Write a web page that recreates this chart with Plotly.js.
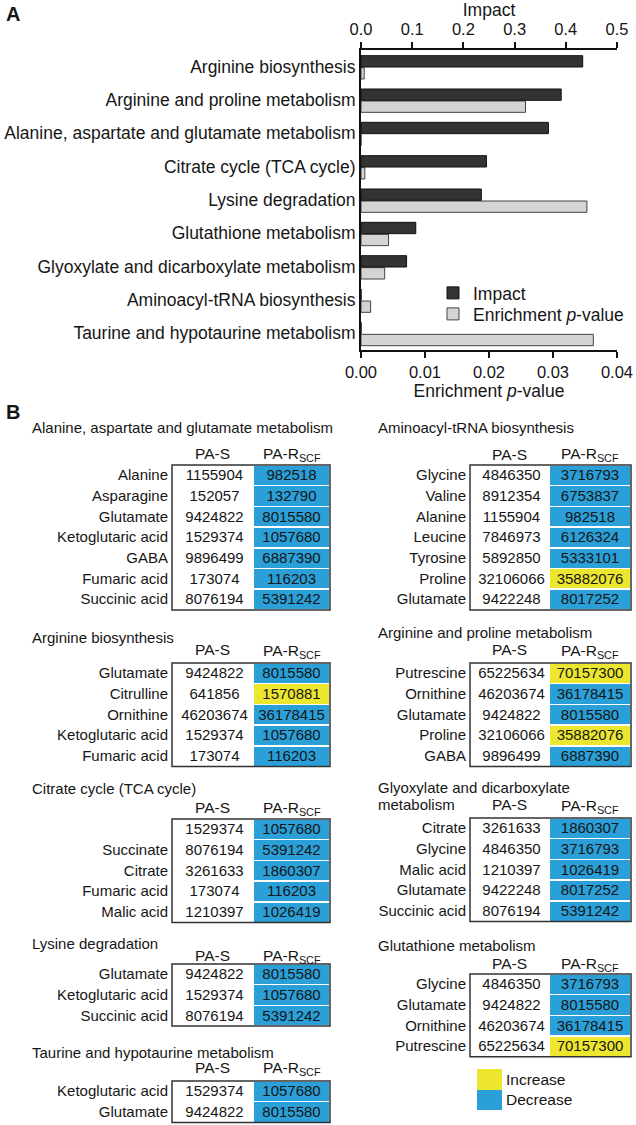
<!DOCTYPE html>
<html>
<head>
<meta charset="utf-8">
<script src="https://cdn.plot.ly/plotly-3.0.1.min.js"></script>
<style>
  html, body { margin: 0; padding: 0; background: #fff; }
  #chart { width: 636px; height: 1125px; }
</style>
</head>
<body>
<div id="chart"></div>
<script>
const W = 636, H = 1125;
const FONT = '"Liberation Sans", Arial, Helvetica, sans-serif';

// panel A - pathway impact / enrichment
const pathways = ['Arginine biosynthesis', 'Arginine and proline metabolism',
  'Alanine, aspartate and glutamate metabolism', 'Citrate cycle (TCA cycle)',
  'Lysine degradation', 'Glutathione metabolism',
  'Glyoxylate and dicarboxylate metabolism', 'Aminoacyl-tRNA biosynthesis',
  'Taurine and hypotaurine metabolism'];
const impact = [0.433, 0.391, 0.366, 0.245, 0.235, 0.107, 0.089, 0, 0];
const enrichment = [0.0005, 0.0257, 0, 0.0006, 0.0353, 0.0043, 0.0037, 0.0015, 0.0363];

// panel B - metabolite tables
const alaNames = ['Alanine', 'Asparagine', 'Glutamate', 'Ketoglutaric acid', 'GABA', 'Fumaric acid', 'Succinic acid'];
const alaPaS = [1155904, 152057, 9424822, 1529374, 9896499, 173074, 8076194];
const alaPaR = [982518, 132790, 8015580, 1057680, 6887390, 116203, 5391242];

const argNames = ['Glutamate', 'Citrulline', 'Ornithine', 'Ketoglutaric acid', 'Fumaric acid'];
const argPaS = [9424822, 641856, 46203674, 1529374, 173074];
const argPaR = [8015580, 1570881, 36178415, 1057680, 116203];

const tcaNames = ['', 'Succinate', 'Citrate', 'Fumaric acid', 'Malic acid'];
const tcaPaS = [1529374, 8076194, 3261633, 173074, 1210397];
const tcaPaR = [1057680, 5391242, 1860307, 116203, 1026419];

const lysNames = ['Glutamate', 'Ketoglutaric acid', 'Succinic acid'];
const lysPaS = [9424822, 1529374, 8076194];
const lysPaR = [8015580, 1057680, 5391242];

const tauNames = ['Ketoglutaric acid', 'Glutamate'];
const tauPaS = [1529374, 9424822];
const tauPaR = [1057680, 8015580];

const trnaNames = ['Glycine', 'Valine', 'Alanine', 'Leucine', 'Tyrosine', 'Proline', 'Glutamate'];
const trnaPaS = [4846350, 8912354, 1155904, 7846973, 5892850, 32106066, 9422248];
const trnaPaR = [3716793, 6753837, 982518, 6126324, 5333101, 35882076, 8017252];

const argProNames = ['Putrescine', 'Ornithine', 'Glutamate', 'Proline', 'GABA'];
const argProPaS = [65225634, 46203674, 9424822, 32106066, 9896499];
const argProPaR = [70157300, 36178415, 8015580, 35882076, 6887390];

const glyoxNames = ['Citrate', 'Glycine', 'Malic acid', 'Glutamate', 'Succinic acid'];
const glyoxPaS = [3261633, 4846350, 1210397, 9422248, 8076194];
const glyoxPaR = [1860307, 3716793, 1026419, 8017252, 5391242];

const gshNames = ['Glycine', 'Glutamate', 'Ornithine', 'Putrescine'];
const gshPaS = [4846350, 9424822, 46203674, 65225634];
const gshPaR = [3716793, 8015580, 36178415, 70157300];

const keyLabels = ['Increase', 'Decrease'];

const BLUE = '#2a9fd8', YELLOW = '#ece62e', EDGE = '#333';
const RH = 20.7;      // table row height (px)
const SHIFT = 4;      // lift table text so it sits in the middle of its row
const TFONT = 15;
const left = {x0: 20, box: 172, mid: 253, x1: 330, title: 30};
const right = {x0: 360, box: 470, mid: 549, x1: 631, title: 376};

const px = v => v / W;
const py = v => 1 - v / H;
const noHeader = {values: ['', '', ''], height: 1, fill: {color: 'rgba(0,0,0,0)'}, line: {width: 0, color: 'rgba(0,0,0,0)'}};

let traces = [];
let shapes = [];
let annotations = [];

traces.push({
  type: 'bar', orientation: 'h', name: 'Impact', legend: 'legend',
  y: pathways, x: impact, xaxis: 'x2', yaxis: 'y',
  offset: -0.33, width: 0.34,
  marker: {color: '#333333', line: {color: '#111', width: 1}}
});
traces.push({
  type: 'bar', orientation: 'h', name: 'Enrichment <i>p</i>-value', legend: 'legend2',
  y: pathways, x: enrichment, xaxis: 'x', yaxis: 'y',
  offset: 0.03, width: 0.34,
  marker: {color: '#d4d4d4', line: {color: '#444', width: 1}}
});

function note(text, x, y, anchor, size) {
  annotations.push({text: text, xref: 'paper', yref: 'paper', x: px(x), y: py(y),
    xanchor: anchor, yanchor: 'middle', showarrow: false, font: {size: size}});
}

function addTable(names, paS, paR, col, top, title, titleY, headY) {
  const n = names.length;
  const blank = names.map(() => '');
  // coloured cells
  traces.push({
    type: 'table',
    domain: {x: [px(col.box), px(col.x1)], y: [py(top + n * RH + 8), py(top - 1)]},
    columnwidth: [col.mid - col.box, col.x1 - col.mid],
    header: Object.assign({}, noHeader, {values: ['', '']}),
    cells: {
      values: [blank, blank],
      height: RH,
      fill: {color: ['white', paR.map((v, i) => v > paS[i] ? YELLOW : BLUE)]},
      line: {color: 'white', width: 1.5}
    }
  });
  // names and values
  traces.push({
    type: 'table',
    domain: {x: [px(col.x0), px(col.x1)], y: [py(top + n * RH + 8 - SHIFT), py(top - 1 - SHIFT)]},
    columnwidth: [col.box + 4 - col.x0, col.mid - col.box - 4, col.x1 - col.mid],
    header: noHeader,
    cells: {
      values: [names.map(s => s.replace(/ /g, '\u00a0')), paS.map(String), paR.map(String)],
      align: ['right', 'center', 'center'],
      height: RH,
      fill: {color: 'rgba(0,0,0,0)'},
      line: {color: 'rgba(0,0,0,0)', width: 0},
      font: {family: FONT, size: TFONT, color: '#161616'}
    }
  });
  shapes.push({type: 'rect', xref: 'paper', yref: 'paper',
    x0: px(col.box), x1: px(col.x1), y0: py(top), y1: py(top + n * RH),
    line: {color: EDGE, width: 1.5}});
  if (title) note(title, col.title, titleY, 'left', 15);
  note('PA-S', (col.box + col.mid) / 2, headY, 'center', 15.5);
  note('PA-R<sub>SCF</sub>', (col.mid + col.x1) / 2, headY + 1, 'center', 15.5);
}

addTable(alaNames, alaPaS, alaPaR, left, 465, 'Alanine, aspartate and glutamate metabolism', 428, 453);
addTable(argNames, argPaS, argPaR, left, 663, 'Arginine biosynthesis', 637, 650);
addTable(tcaNames, tcaPaS, tcaPaR, left, 819, 'Citrate cycle (TCA cycle)', 788, 807);
addTable(lysNames, lysPaS, lysPaR, left, 964, 'Lysine degradation', 943, 955);
addTable(tauNames, tauPaS, tauPaR, left, 1081, 'Taurine and hypotaurine metabolism', 1052, 1067);

addTable(trnaNames, trnaPaS, trnaPaR, right, 465, 'Aminoacyl-tRNA biosynthesis', 427, 454);
addTable(argProNames, argProPaS, argProPaR, right, 663, 'Arginine and proline metabolism', 632, 650);
addTable(glyoxNames, glyoxPaS, glyoxPaR, right, 818, 'Glyoxylate and dicarboxylate', 787, 805);
note('metabolism', right.title, 805, 'left', 15);
addTable(gshNames, gshPaS, gshPaR, right, 974, 'Glutathione metabolism', 945, 963);

// colour key for the tables
traces.push({
  type: 'table',
  domain: {x: [px(477), px(503)], y: [py(1069 + 2 * RH + 6), py(1068)]},
  header: Object.assign({}, noHeader, {values: ['']}),
  cells: {
    values: [['', '']],
    height: RH,
    fill: {color: [[YELLOW, BLUE]]},
    line: {color: 'rgba(0,0,0,0)', width: 0}
  }
});
traces.push({
  type: 'table',
  domain: {x: [px(498), px(620)], y: [py(1069 + 2 * RH + 6 - SHIFT), py(1068 - SHIFT)]},
  header: Object.assign({}, noHeader, {values: ['']}),
  cells: {
    values: [keyLabels],
    align: 'left',
    height: RH,
    fill: {color: 'rgba(0,0,0,0)'},
    line: {color: 'rgba(0,0,0,0)', width: 0},
    font: {family: FONT, size: 15.5, color: '#161616'}
  }
});

annotations.push({text: '<b>A</b>', xref: 'paper', yref: 'paper', x: px(4), y: py(14),
  xanchor: 'left', yanchor: 'middle', showarrow: false, font: {size: 20}});
annotations.push({text: '<b>B</b>', xref: 'paper', yref: 'paper', x: px(4), y: py(412),
  xanchor: 'left', yanchor: 'middle', showarrow: false, font: {size: 20}});

const axisCommon = {
  showgrid: false, zeroline: false, showline: true, linecolor: '#111', linewidth: 2,
  ticks: 'outside', ticklen: 6, tickwidth: 2, tickcolor: '#111',
  tickfont: {size: 16.5}, automargin: false
};
const legendCommon = {xanchor: 'left', yanchor: 'middle', font: {size: 17.5},
  bgcolor: 'rgba(0,0,0,0)', borderwidth: 0};

const layout = {
  width: W, height: H,
  margin: {l: 0, r: 0, t: 0, b: 0},
  paper_bgcolor: 'white', plot_bgcolor: 'white',
  font: {family: FONT, color: '#161616', size: 15},
  showlegend: true,
  legend: Object.assign({x: px(433), y: py(293)}, legendCommon),
  legend2: Object.assign({x: px(433), y: py(314)}, legendCommon),
  xaxis: Object.assign({}, axisCommon, {
    domain: [px(361), px(617)], anchor: 'y', side: 'bottom',
    range: [0, 0.04], dtick: 0.01, tickformat: '.2f',
    title: {text: 'Enrichment <i>p</i>-value', font: {size: 17.5}, standoff: 4}
  }),
  xaxis2: Object.assign({}, axisCommon, {
    overlaying: 'x', anchor: 'y', side: 'top',
    range: [0, 0.5], dtick: 0.1, tickformat: '.1f',
    title: {text: 'Impact', font: {size: 17.5}, standoff: 4}
  }),
  yaxis: {
    domain: [py(350), py(50)], range: [8.5, -0.5], type: 'category',
    showgrid: false, zeroline: false, showline: true, linecolor: '#111', linewidth: 2,
    ticks: '', tickfont: {size: 17.5}, automargin: false
  },
  shapes: shapes,
  annotations: annotations
};

Plotly.newPlot('chart', traces, layout, {displayModeBar: false, staticPlot: true});
</script>
</body>
</html>
